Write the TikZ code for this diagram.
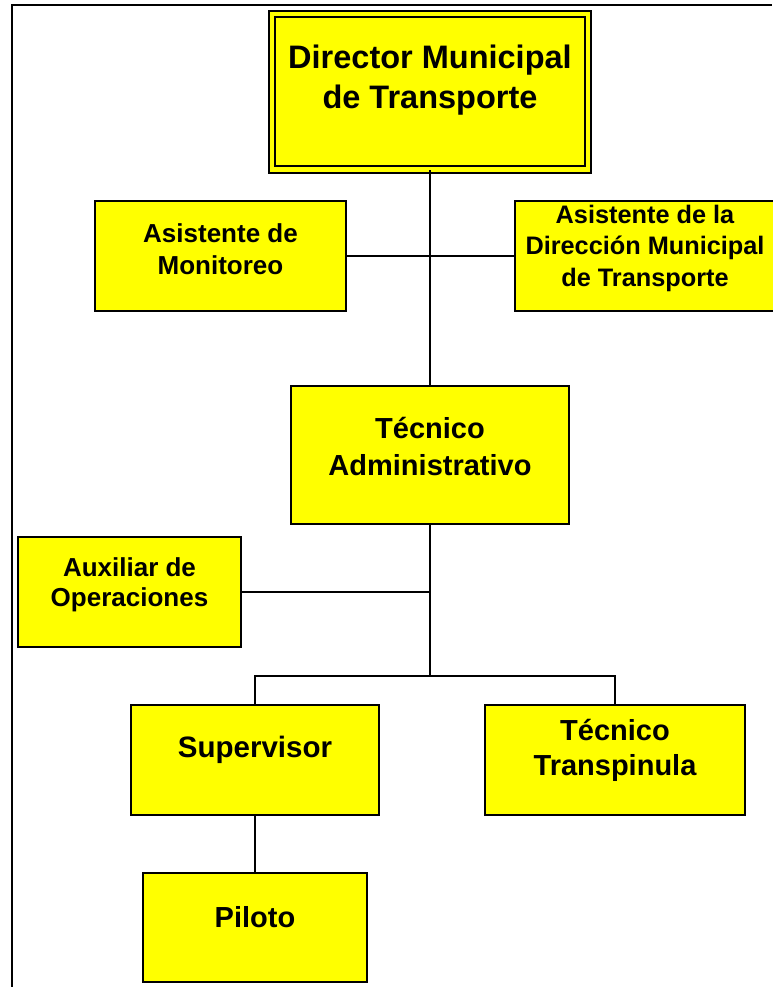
\documentclass[tikz,border=0pt]{standalone}
\usepackage{fontspec}
\setmainfont{Liberation Sans}
\definecolor{boxyellow}{rgb}{1,1,0}
\tikzset{
  post/.style={draw, line width=2.1pt, fill=boxyellow, inner sep=0pt},
  headpost/.style={post, line width=2pt, double=boxyellow, double distance=4.3pt},
  posttext/.style={align=center, inner sep=0pt},
  link/.style={line width=2pt},
  thinlink/.style={line width=1.6pt}
}
\begin{document}
\begin{tikzpicture}[x=1pt,y=-1pt]
\useasboundingbox (0,0) rectangle (772,987);
\draw[line width=2.1pt] (12,987) -- (12,5) -- (772,5);
% boxes
\node[headpost, minimum width=315.5, minimum height=155.5] (dir) at (430,91.75) {};
\node[post, minimum width=251, minimum height=110] (mon) at (220.5,256) {};
\node[post, minimum width=260, minimum height=110] (asdir) at (645,256) {};
\node[post, minimum width=278, minimum height=138] (tadm) at (430,455) {};
\node[post, minimum width=223, minimum height=110] (aux) at (129.5,592) {};
\node[post, minimum width=248, minimum height=110] (sup) at (255,760) {};
\node[post, minimum width=260, minimum height=110] (ttr) at (615,760) {};
\node[post, minimum width=224, minimum height=109] (pil) at (255,927.5) {};
% texts
\node[posttext, yshift=11.5, font=\bfseries\fontsize{32.5}{40}\selectfont] (dir-t) at (dir) {Director Municipal\\de Transporte};
\node[posttext, yshift=7, font=\bfseries\fontsize{26}{32}\selectfont] (mon-t) at (mon) {Asistente de\\Monitoreo};
\node[posttext, yshift=8, font=\bfseries\fontsize{25.3}{31.5}\selectfont] (asdir-t) at (asdir) {Asistente de la\\Dirección Municipal\\de Transporte};
\node[posttext, yshift=8.5, font=\bfseries\fontsize{29}{37}\selectfont] (tadm-t) at (tadm) {Técnico\\Administrativo};
\node[posttext, yshift=7, font=\bfseries\fontsize{26}{30}\selectfont] (aux-t) at (aux) {Auxiliar de\\Operaciones};
\node[posttext, yshift=10, font=\bfseries\fontsize{29.5}{35}\selectfont] (sup-t) at (sup) {Supervisor};
\node[posttext, yshift=9.5, font=\bfseries\fontsize{29}{35}\selectfont] (ttr-t) at (ttr) {Técnico\\Transpinula};
\node[posttext, yshift=10.5, font=\bfseries\fontsize{29}{35}\selectfont] (pil-t) at (pil) {Piloto};
% lines
\coordinate (fork) at (tadm.south |- 0,676);
\draw[link] (dir.south) -- (tadm.north);
\draw[link] (mon.east) -- (mon.east -| asdir.west);
\draw[link] (tadm.south) -- (fork);
\draw[link] (aux.east) -- (aux.east -| tadm.south);
\draw[thinlink] (sup.north) |- (fork) -| (ttr.north);
\draw[thinlink] (sup.south) -- (pil.north);
\end{tikzpicture}
\end{document}
